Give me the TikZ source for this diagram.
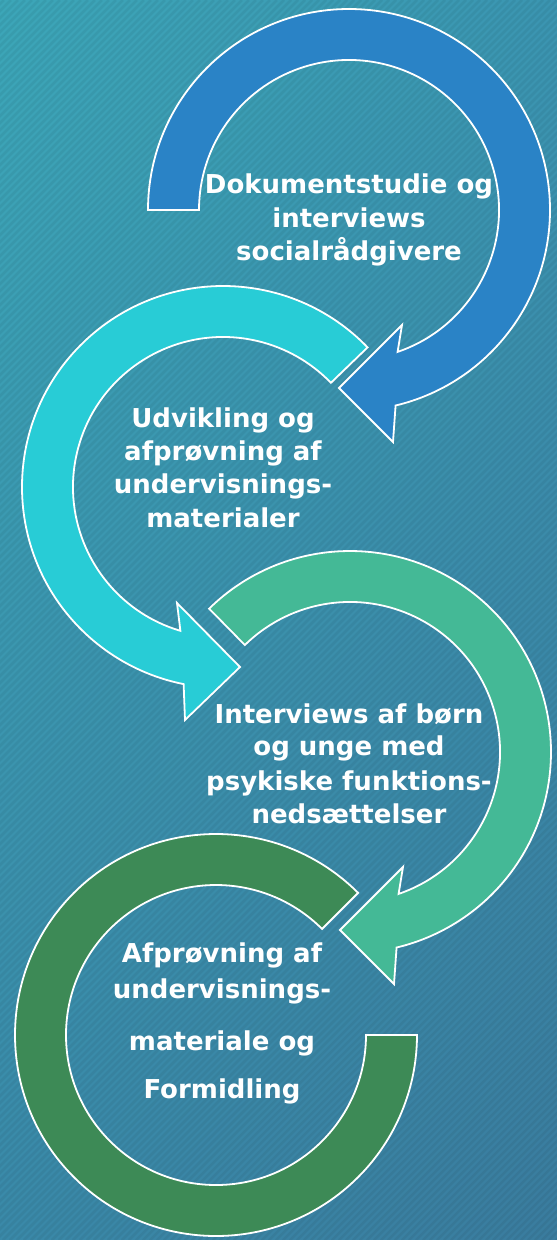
\documentclass[tikz,border=0pt]{standalone}
\usepackage{fontspec}
\setmainfont{DejaVu Sans}
\usetikzlibrary{calc,shadings}
\definecolor{bgTL}{HTML}{3CA6B8}
\definecolor{bgTR}{HTML}{3B95B1}
\definecolor{bgBL}{HTML}{3A89A8}
\definecolor{bgBR}{HTML}{3A7C9E}
\definecolor{cBlue}{HTML}{2A83C6}
\definecolor{cCyan}{HTML}{28CCD6}
\definecolor{cGreen}{HTML}{44B996}
\definecolor{cDark}{HTML}{3D8A56}
\tikzset{
  ring/.style={draw=white, line width=1.8pt, line join=miter},
  stripe/.style={draw=black, draw opacity=0.05, line width=2.5pt},
  lbl/.style={text=white, font=\bfseries\fontsize{26}{31}\selectfont, anchor=base, inner sep=0pt}
}
\begin{document}
\begin{tikzpicture}[x=1pt,y=1pt]
\useasboundingbox (0,0) rectangle (557,-1240);
\shade[upper left=bgTL, upper right=bgTR, lower left=bgBL, lower right=bgBR] (0,0) rectangle (557,-1240);
\begin{scope}
\clip (0,0) rectangle (557,-1240);
\foreach \a in {-1250,-1243,...,560} {
  \draw[stripe] (\a,-1240) -- ++(1240,1240);
}
\end{scope}

\coordinate (c1) at (349,-210);
\coordinate (c2) at (223,-487);
\coordinate (c3) at (350,-752);
\coordinate (c4) at (216,-1035);

% blue arrow
\path[ring, fill=cBlue] ($(c1)+(180:201)$) arc[start angle=180, end angle=-76.6, radius=201]
  -- ($(c1)+(44,-232)$) -- ($(c1)+(-10,-178)$) -- ($(c1)+(53,-115)$)
  -- ($(c1)+(-71.1:150)$) arc[start angle=-71.1, end angle=180, radius=150] -- cycle;
% cyan arrow
\path[ring, fill=cCyan] ($(c2)+(44:201)$) arc[start angle=44, end angle=258.7, radius=201]
  -- ($(c2)+(-38,-233)$) -- ($(c2)+(17,-180)$) -- ($(c2)+(-46,-116)$)
  -- ($(c2)+(253.5:150)$) arc[start angle=253.5, end angle=44, radius=150] -- cycle;
% green arrow
\path[ring, fill=cGreen] ($(c3)+(134.5:201)$) arc[start angle=134.5, end angle=-76.6, radius=201]
  -- ($(c3)+(44,-232)$) -- ($(c3)+(-10,-178)$) -- ($(c3)+(53,-115)$)
  -- ($(c3)+(-71.1:150)$) arc[start angle=-71.1, end angle=134.5, radius=150] -- cycle;
% dark green ring
\path[ring, fill=cDark] ($(c4)+(45:201)$) arc[start angle=45, end angle=360, radius=201]
  -- ($(c4)+(0:150)$) arc[start angle=360, end angle=45, radius=150] -- cycle;

\node[lbl] (t1a) at (349,-193) {Dokumentstudie og};
\node[lbl] (t1b) at (349,-227) {interviews};
\node[lbl] (t1c) at (349,-260) {socialrådgivere};

\node[lbl] (t2a) at (223,-427) {Udvikling og};
\node[lbl] (t2b) at (223,-460) {afprøvning af};
\node[lbl] (t2c) at (223,-493) {undervisnings-};
\node[lbl] (t2d) at (223,-527) {materialer};

\node[lbl] (t3a) at (349,-723) {Interviews af børn};
\node[lbl] (t3b) at (349,-755) {og unge med};
\node[lbl] (t3c) at (349,-790) {psykiske funktions-};
\node[lbl] (t3d) at (349,-823) {nedsættelser};

\node[lbl] (t4a) at (222,-962) {Afprøvning af};
\node[lbl] (t4b) at (222,-998) {undervisnings-};
\node[lbl] (t4c) at (222,-1050) {materiale og};
\node[lbl] (t4d) at (222,-1098) {Formidling};
\end{tikzpicture}
\end{document}
